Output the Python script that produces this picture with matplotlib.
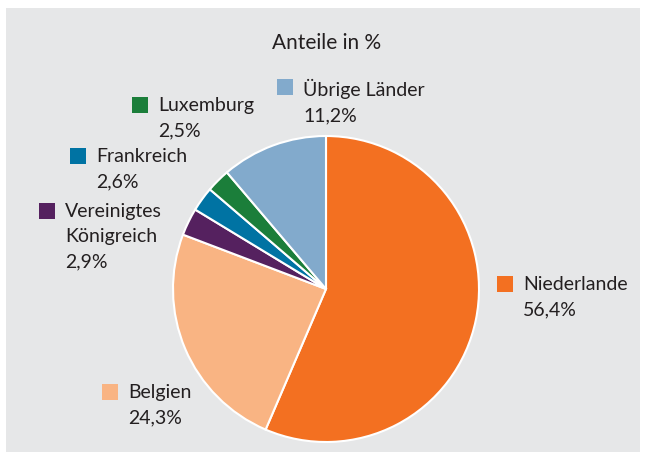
import matplotlib.pyplot as plt
from matplotlib.patches import Rectangle

plt.rcParams['font.family'] = ['Lato', 'DejaVu Sans']

# data
laender = ['Niederlande', 'Belgien', 'Vereinigtes\nKönigreich', 'Frankreich', 'Luxemburg', 'Übrige Länder']
anteile = [56.4, 24.3, 2.9, 2.6, 2.5, 11.2]
farben = ['#F37021', '#F9B483', '#55215F', '#0073A3', '#1B7E3A', '#82AACC']
# label anchor (square left x, first-line y) in pixel coords from top-left
label_pos = [(497, 285), (102, 393), (39, 212), (70, 157), (132, 106), (277, 88)]

W, H = 646, 460
fig = plt.figure(figsize=(W / 100, H / 100), dpi=100)
fig.patch.set_facecolor('white')
ax = fig.add_axes([0, 0, 1, 1])

# grey panel
ax.add_patch(Rectangle((6, H - 453), 634, 444, facecolor='#E6E7E8', edgecolor='none', zorder=0))

ax.text(327, H - 43, 'Anteile in %', ha='center', va='center', fontsize=15, color='#231F20')

ax.pie(anteile, colors=farben, startangle=90, counterclock=False,
       center=(326, H - 290), radius=153, frame=True,
       wedgeprops=dict(edgecolor='white', linewidth=1.5))
ax.set_xlim(0, W)
ax.set_ylim(0, H)
ax.set_aspect('equal')
ax.axis('off')

for name, wert, (x, y), c in zip(laender, anteile, label_pos, farben):
    ax.add_patch(Rectangle((x, H - y - 8), 16, 16, facecolor=c, edgecolor='none'))
    txt = name + '\n' + f'{wert:.1f}'.replace('.', ',') + '%'
    ax.text(x + 26, H - y + 9, txt, ha='left', va='top', fontsize=14,
            color='#231F20', linespacing=1.6)

fig.savefig('out.png', dpi=100)
